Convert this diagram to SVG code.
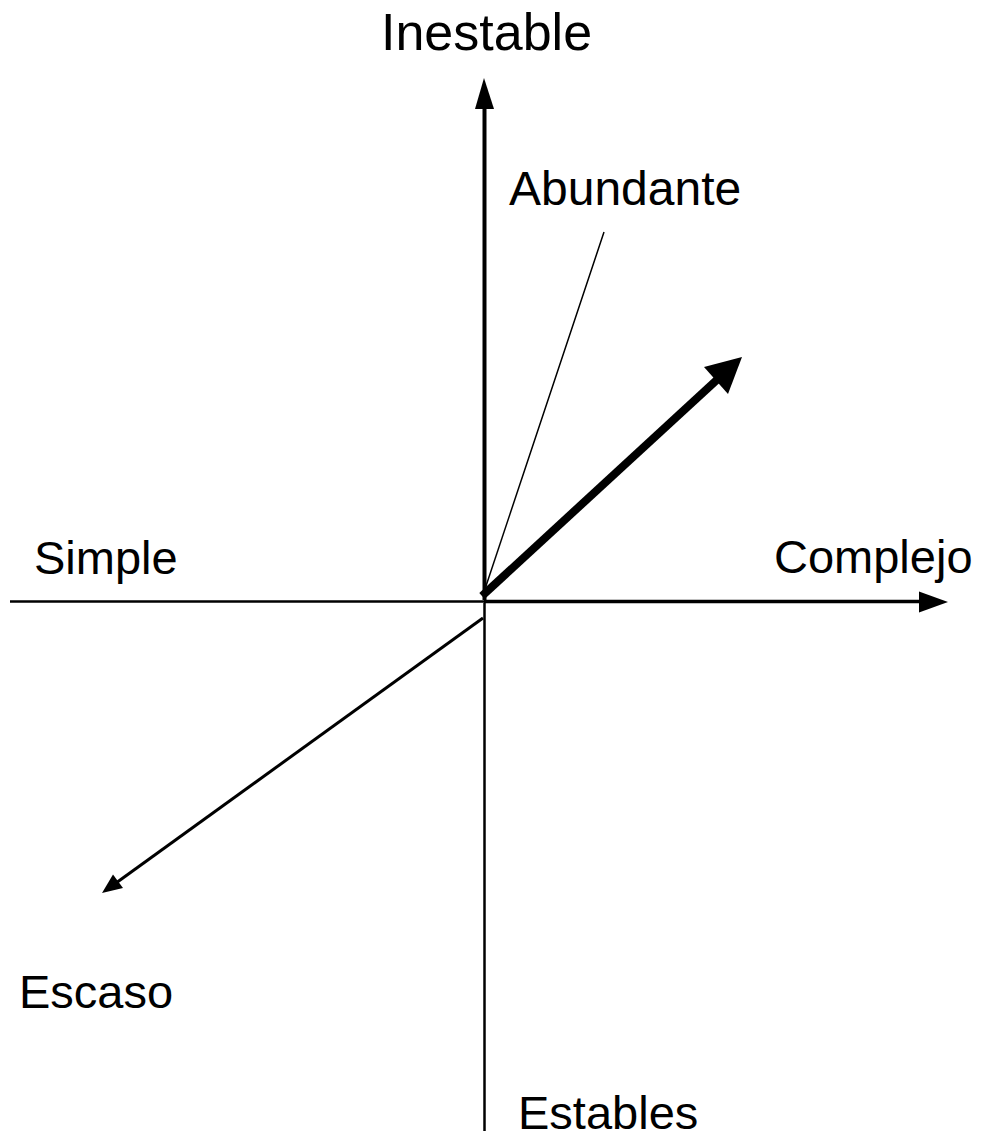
<svg xmlns="http://www.w3.org/2000/svg" width="981" height="1141" viewBox="0 0 981 1141">
<style>
.lbl{font-family:"Liberation Sans",Arial,sans-serif;fill:#000}
.ax{stroke:#000;fill:none}
.hd{fill:#000;stroke:none}
</style>
<rect width="981" height="1141" fill="#fff"/>
<g id="connectors">
  <line class="ax" x1="484.5" y1="600" x2="484.5" y2="104" stroke-width="4"/>
  <polygon class="hd" points="484,78 475,109 494,109"/>
  <line class="ax" x1="484.5" y1="603" x2="484.5" y2="1131" stroke-width="2.5" stroke="#222"/>
  <line class="ax" x1="10" y1="601.5" x2="484" y2="601.5" stroke-width="2.5" stroke="#222"/>
  <line class="ax" x1="484" y1="601.5" x2="924" y2="601.5" stroke-width="3.5"/>
  <polygon class="hd" points="948,602 919,591.5 919,612.5"/>
  <line class="ax" x1="482" y1="596" x2="720" y2="377" stroke-width="8"/>
  <polygon class="hd" points="742,357 704,367 728,394"/>
  <line class="ax" x1="483" y1="618" x2="116" y2="883" stroke-width="3"/>
  <polygon class="hd" points="102,893 123,888 113,874.5"/>
  <line class="ax" x1="484" y1="592" x2="604" y2="232" stroke-width="1.5"/>
</g>
<g id="inestable"><text class="lbl" x="381" y="50" font-size="52">Inestable</text></g>
<g id="abundante"><text class="lbl" x="509" y="205" font-size="48">Abundante</text></g>
<g id="simple"><text class="lbl" x="34" y="574" font-size="47">Simple</text></g>
<g id="complejo"><text class="lbl" x="774" y="573" font-size="47">Complejo</text></g>
<g id="escaso"><text class="lbl" x="19" y="1008" font-size="47">Escaso</text></g>
<g id="estables"><text class="lbl" x="518" y="1129" font-size="47">Estables</text></g>
</svg>
